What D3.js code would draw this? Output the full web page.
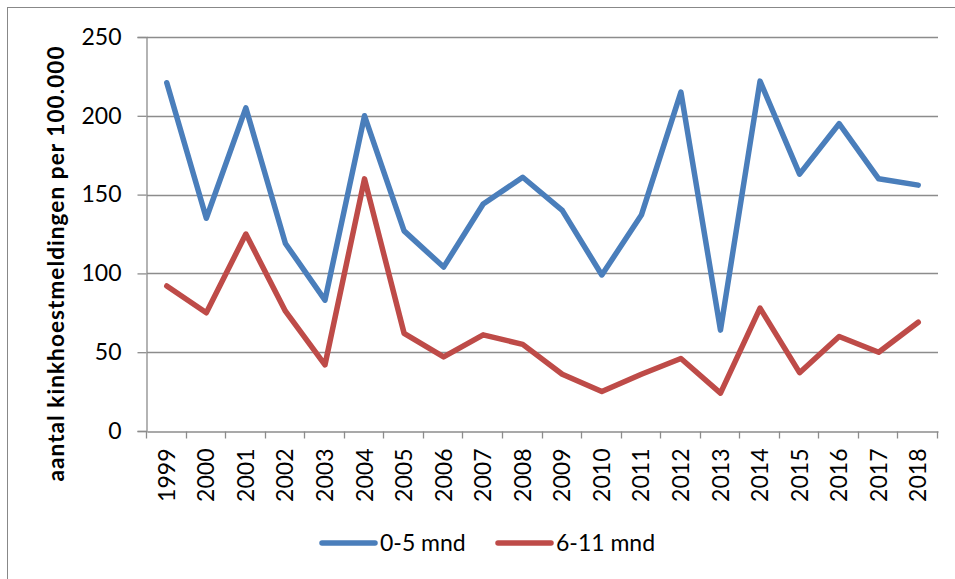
<!DOCTYPE html>
<html>
<head>
<meta charset="utf-8">
<script src="https://cdn.jsdelivr.net/npm/d3@7"></script>
<style>
  body { margin: 0; background: #fff; }
  svg text { font-family: Lato, "Liberation Sans", sans-serif; fill: #000; }
</style>
</head>
<body>
<svg id="chart"></svg>
<script>
const width = 955;
const height = 579;

// jaren en meldingen per 100.000
const years = ['1999', '2000', '2001', '2002', '2003', '2004', '2005', '2006', '2007', '2008',
    '2009', '2010', '2011', '2012', '2013', '2014', '2015', '2016', '2017', '2018'];
const age0to5 = [221, 135, 205, 119, 83, 200, 127, 104, 144, 161,
    140, 99, 137, 215, 64, 222, 163, 195, 160, 156];
const age6to11 = [92, 75, 125, 76, 42, 160, 62, 47, 61, 55,
    36, 25, 36, 46, 24, 78, 37, 60, 50, 69];
const yTicks = [0, 50, 100, 150, 200, 250];

const series = [
    { name: '0-5 mnd', values: age0to5, color: '#4a7ebb' },
    { name: '6-11 mnd', values: age6to11, color: '#be4b48' }
];

const margin = { top: 37, right: 17, bottom: 148, left: 147 };

const svg = d3.select('#chart')
    .attr('width', width)
    .attr('height', height);

// kader rond de grafiek
svg.append('rect')
    .attr('x', 7.5)
    .attr('y', 7.5)
    .attr('width', width + 20)
    .attr('height', height + 20)
    .attr('fill', 'none')
    .attr('stroke', '#888')
    .attr('stroke-width', 1);

const x = d3.scaleBand()
    .domain(years)
    .range([margin.left, width - margin.right]);

const y = d3.scaleLinear()
    .domain([0, 250])
    .range([height - margin.bottom, margin.top]);

// rasterlijnen
svg.append('g')
    .selectAll('line')
    .data(yTicks.filter(d => d > 0))
    .enter().append('line')
    .attr('x1', margin.left)
    .attr('x2', width - margin.right)
    .attr('y1', d => Math.round(y(d)) + 0.5)
    .attr('y2', d => Math.round(y(d)) + 0.5)
    .attr('stroke', '#8c8c8c')
    .attr('stroke-width', 1.3);

// y-as
const yAxis = svg.append('g')
    .attr('transform', `translate(${margin.left - 0.5},0)`)
    .call(d3.axisLeft(y).tickValues(yTicks).tickSize(9).tickPadding(16));
yAxis.selectAll('text').style('font-size', '23px');

// x-as
const xAxis = svg.append('g')
    .attr('transform', `translate(0,${Math.round(y(0)) + 0.5})`)
    .call(d3.axisBottom(x).tickSize(0).tickPadding(0));
xAxis.selectAll('text')
    .style('font-size', '23px')
    .attr('text-anchor', 'end')
    .attr('dy', '0.35em')
    .attr('transform', 'translate(0,17) rotate(-90)');

// tickmarks tussen de categorieën
xAxis.selectAll('.boundary')
    .data(d3.range(years.length + 1))
    .enter().append('line')
    .attr('class', 'boundary')
    .attr('x1', i => Math.round(margin.left + i * x.step()) - 0.5)
    .attr('x2', i => Math.round(margin.left + i * x.step()) - 0.5)
    .attr('y1', 0)
    .attr('y2', 7)
    .attr('stroke', '#8c8c8c')
    .attr('stroke-width', 1.3);

svg.selectAll('.domain, .tick line')
    .attr('stroke', '#8c8c8c')
    .attr('stroke-width', 1.3);

// as-titel
svg.append('text')
    .attr('transform', 'translate(64,264) rotate(-90)')
    .attr('text-anchor', 'middle')
    .attr('textLength', 435)
    .attr('lengthAdjust', 'spacing')
    .style('font-size', '22.5px')
    .style('font-weight', 'bold')
    .text('aantal kinkhoestmeldingen per 100.000');

// lijnen
const line = d3.line()
    .x((d, i) => x(years[i]) + x.bandwidth() / 2)
    .y(d => y(d));

svg.append('g')
    .selectAll('path')
    .data(series)
    .enter().append('path')
    .attr('d', d => line(d.values))
    .attr('fill', 'none')
    .attr('stroke', d => d.color)
    .attr('stroke-width', 5.5)
    .attr('stroke-linejoin', 'round')
    .attr('stroke-linecap', 'round');

// legenda
const legendX = [322, 498];
const legend = svg.append('g')
    .selectAll('g')
    .data(series)
    .enter().append('g')
    .attr('transform', (d, i) => `translate(${legendX[i]},543)`);

legend.append('line')
    .attr('x1', 0)
    .attr('x2', 53)
    .attr('stroke', d => d.color)
    .attr('stroke-width', 5.5)
    .attr('stroke-linecap', 'round');

legend.append('text')
    .attr('x', 58)
    .attr('dy', '0.35em')
    .style('font-size', '23px')
    .text(d => d.name);
</script>
</body>
</html>
